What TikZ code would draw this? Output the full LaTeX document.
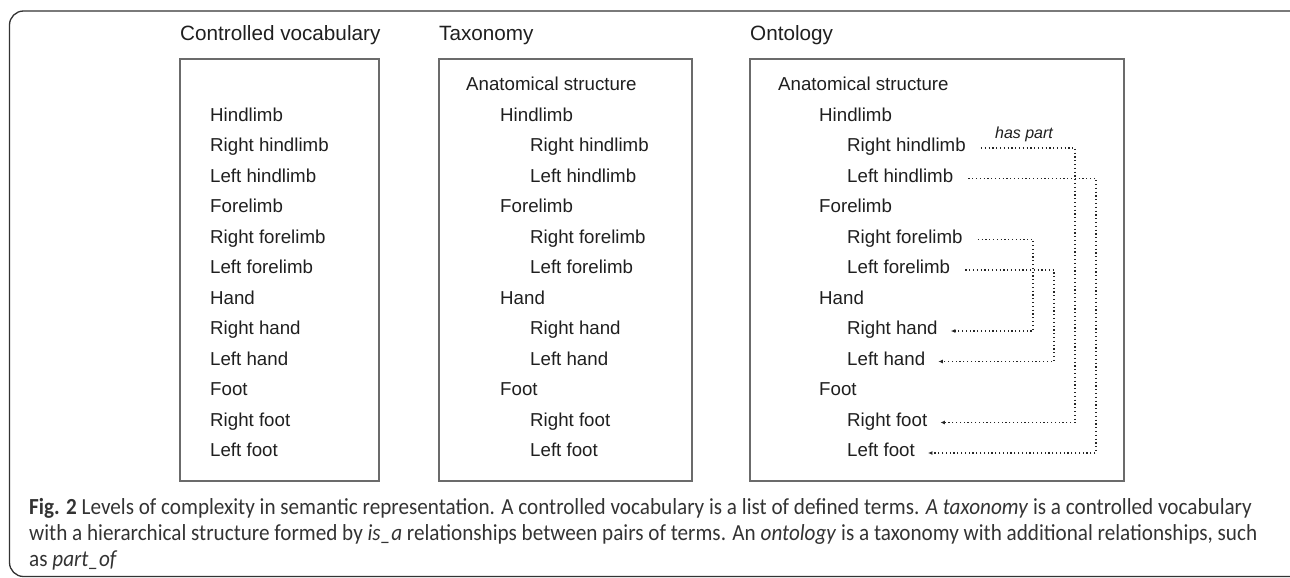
\documentclass[tikz,border=0pt]{standalone}
\usepackage{fontspec}
\setmainfont{Liberation Sans}
\newfontfamily\capfont[FakeStretch=0.92]{Carlito}
\usetikzlibrary{arrows.meta}
\begin{document}
\begin{tikzpicture}[x=1pt,y=-1pt,
  item/.style={anchor=west, inner sep=0pt, text height=0.716em, text depth=0pt,
    font=\fontsize{18.7pt}{20pt}\selectfont, text=black!88},
  ttl/.style={anchor=west, inner sep=0pt, text height=0.716em, text depth=0pt,
    font=\fontsize{20.7pt}{22pt}\selectfont, text=black!88},
  panel/.style={draw=black!58, line width=1.6pt},
  conn/.style={line width=1.2pt, dash pattern=on 1.2pt off 2.6pt, black!85,
    -{Latex[length=4.5pt,width=4pt]}},
  capline/.style={anchor=base west, inner sep=0pt,
    font=\capfont\fontsize{23pt}{26pt}\selectfont, text=black!80}]
\useasboundingbox (0,0) rectangle (1290,578);
% outer frame
\draw[line width=1.3pt, black!80, rounded corners=14pt]
  (1302,11) -- (9.5,11) -- (9.5,576.5) -- (1302,576.5);
% titles
\node[ttl] (t1) at (180,37) {Controlled vocabulary};
\node[ttl] (t2) at (439,37) {Taxonomy};
\node[ttl] (t3) at (750,37) {Ontology};
% panels
\draw[panel] (180,59) rectangle (379,481);
\draw[panel] (439,59) rectangle (692,481);
\draw[panel] (750,59) rectangle (1124,481);
% controlled vocabulary
\node[item] (a1)  at (210,117.5) {Hindlimb};
\node[item] (a2)  at (210,148)   {Right hindlimb};
\node[item] (a3)  at (210,178.5) {Left hindlimb};
\node[item] (a4)  at (210,209)   {Forelimb};
\node[item] (a5)  at (210,239.5) {Right forelimb};
\node[item] (a6)  at (210,270)   {Left forelimb};
\node[item] (a7)  at (210,300.5) {Hand};
\node[item] (a8)  at (210,331)   {Right hand};
\node[item] (a9)  at (210,361.5) {Left hand};
\node[item] (a10) at (210,392)   {Foot};
\node[item] (a11) at (210,422.5) {Right foot};
\node[item] (a12) at (210,453)   {Left foot};
% taxonomy
\node[item] (b0)  at (466,87)    {Anatomical structure};
\node[item] (b1)  at (500,117.5) {Hindlimb};
\node[item] (b2)  at (530,148)   {Right hindlimb};
\node[item] (b3)  at (530,178.5) {Left hindlimb};
\node[item] (b4)  at (500,209)   {Forelimb};
\node[item] (b5)  at (530,239.5) {Right forelimb};
\node[item] (b6)  at (530,270)   {Left forelimb};
\node[item] (b7)  at (500,300.5) {Hand};
\node[item] (b8)  at (530,331)   {Right hand};
\node[item] (b9)  at (530,361.5) {Left hand};
\node[item] (b10) at (500,392)   {Foot};
\node[item] (b11) at (530,422.5) {Right foot};
\node[item] (b12) at (530,453)   {Left foot};
% ontology
\node[item] (c0)  at (778,87)    {Anatomical structure};
\node[item] (c1)  at (819,117.5) {Hindlimb};
\node[item] (c2)  at (847,148)   {Right hindlimb};
\node[item] (c3)  at (847,178.5) {Left hindlimb};
\node[item] (c4)  at (819,209)   {Forelimb};
\node[item] (c5)  at (847,239.5) {Right forelimb};
\node[item] (c6)  at (847,270)   {Left forelimb};
\node[item] (c7)  at (819,300.5) {Hand};
\node[item] (c8)  at (847,331)   {Right hand};
\node[item] (c9)  at (847,361.5) {Left hand};
\node[item] (c10) at (819,392)   {Foot};
\node[item] (c11) at (847,422.5) {Right foot};
\node[item] (c12) at (847,453)   {Left foot};
\node[inner sep=0pt, font=\fontsize{16pt}{18pt}\selectfont\itshape, text=black!88] (hp) at (1024,134) {has part};
% vertical routing lines
\coordinate (v1) at (1075,0);
\coordinate (v2) at (1096,0);
\coordinate (v3) at (1033,0);
\coordinate (v4) at (1054,0);
\draw[conn] ([xshift=15pt]c2.east) -| (v1 |- c11.east) -- ([xshift=13pt]c11.east);
\draw[conn] ([xshift=15pt]c3.east) -| (v2 |- c12.east) -- ([xshift=13pt]c12.east);
\draw[conn] ([xshift=15pt]c5.east) -| (v3 |- c8.east) -- ([xshift=13pt]c8.east);
\draw[conn] ([xshift=15pt]c6.east) -| (v4 |- c9.east) -- ([xshift=13pt]c9.east);
% caption
\node[capline] (cap1) at (29,514) {\textbf{Fig. 2} Levels of complexity in semantic representation. A controlled vocabulary is a list of defined terms. \textit{A taxonomy} is a controlled vocabulary};
\node[capline] (cap2) at (29,540) {with a hierarchical structure formed by \textit{is\_a} relationships between pairs of terms. An \textit{ontology} is a taxonomy with additional relationships, such};
\node[capline] (cap3) at (29,566) {as \textit{part\_of}};
\end{tikzpicture}
\end{document}
